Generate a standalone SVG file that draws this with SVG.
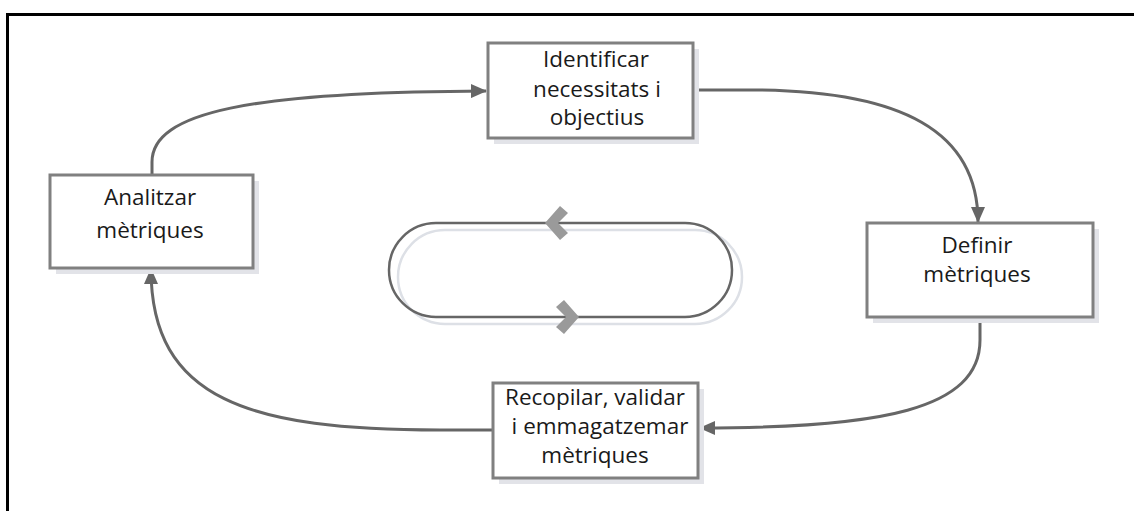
<svg xmlns="http://www.w3.org/2000/svg" width="1134" height="511" viewBox="0 0 1134 511">
<defs>
<marker id="arr" viewBox="0 0 16 14" refX="15" refY="7" markerWidth="16" markerHeight="14" markerUnits="userSpaceOnUse" orient="auto">
<path d="M0,0 L16,7 L0,14 z" fill="#666"/>
</marker>
</defs>
<style>
.box{fill:#fff;stroke:#808080;stroke-width:3}
.sh{fill:#e2e3e8}
.lbl{font-family:"Open Sans","Noto Sans",sans-serif;font-size:22.5px;fill:#1a1a1a;text-anchor:middle}
.con{fill:none;stroke:#666;stroke-width:3}
</style>
<rect x="0" y="0" width="1134" height="511" fill="#fff"/>
<rect x="7.5" y="14.5" width="1140" height="510" fill="none" stroke="#000" stroke-width="3"/>

<g id="loop">
<rect x="398" y="230" width="344" height="94" rx="47" fill="none" stroke="#dde0e6" stroke-width="2.5"/>
<rect x="389" y="223" width="343" height="94" rx="47" fill="none" stroke="#666" stroke-width="2.5"/>
<polygon points="545,223 560,206 568,213 558,223 568,233 560,240" fill="#9a9a9a"/>
<polygon points="579,317 564,300 556,307 566,317 556,327 564,334" fill="#9a9a9a"/>
</g>

<g id="connectors">
<path class="con" d="M152,175 L152,162 C152,112 250,92 486,91" marker-end="url(#arr)"/>
<path class="con" d="M693,90 L760,90 C900,92 978,130 978,222" marker-end="url(#arr)"/>
<path class="con" d="M980,317 L980,340 C980,410 880,428 700,428" marker-end="url(#arr)"/>
<path class="con" d="M493,430 L440,430 C250,430 151,400 151,269" marker-end="url(#arr)"/>
</g>

<g id="n-identificar">
<rect class="sh" x="494" y="49" width="205" height="95"/>
<rect class="box" x="488" y="43" width="205" height="95"/>
<text class="lbl" x="596" y="67">Identificar</text>
<text class="lbl" x="597" y="97">necessitats i</text>
<text class="lbl" x="597" y="125">objectius</text>
</g>

<g id="n-definir">
<rect class="sh" x="873" y="229" width="226" height="94"/>
<rect class="box" x="867" y="223" width="226" height="94"/>
<text class="lbl" x="977" y="253">Definir</text>
<text class="lbl" x="977" y="282">mètriques</text>
</g>

<g id="n-recopilar">
<rect class="sh" x="499" y="389" width="205" height="95"/>
<rect class="box" x="493" y="383" width="205" height="95"/>
<text class="lbl" x="595" y="405">Recopilar, validar</text>
<text class="lbl" x="600" y="434">i emmagatzemar</text>
<text class="lbl" x="595" y="463">mètriques</text>
</g>

<g id="n-analitzar">
<rect class="sh" x="56" y="181" width="203" height="93"/>
<rect class="box" x="50" y="175" width="203" height="93"/>
<text class="lbl" x="150" y="205">Analitzar</text>
<text class="lbl" x="150" y="238">mètriques</text>
</g>
</svg>
